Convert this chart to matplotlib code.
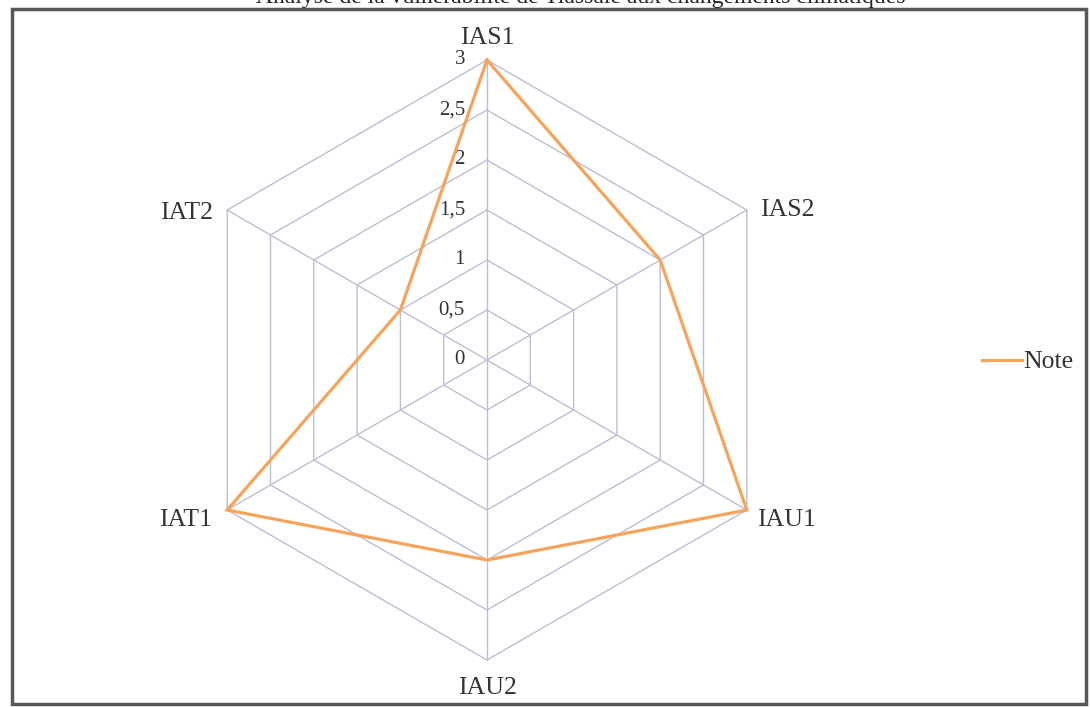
import numpy as np
import matplotlib
matplotlib.use('Agg')
import matplotlib.pyplot as plt

# indicator scores
categories = ['IAS1', 'IAS2', 'IAU1', 'IAU2', 'IAT1', 'IAT2']
notes = [3, 2, 3, 2, 3, 1]
ring_values = [0.5, 1, 1.5, 2, 2.5, 3]
tick_labels = ['0', '0,5', '1', '1,5', '2', '2,5', '3']
title = 'Analyse de la vulnérabilité de Tiassalé aux changements climatiques'

plt.rcParams['font.family'] = ['Liberation Serif', 'DejaVu Serif']

W, H = 1090, 707
fig = plt.figure(figsize=(W / 100., H / 100.), dpi=100)
ax = fig.add_axes([0, 0, 1, 1])
# 1 unit = 100 px, centre of the web at (487, 360) px
cx, cy = 487, 360
ax.set_xlim(-cx / 100., (W - cx) / 100.)
ax.set_ylim(-(H - cy) / 100., cy / 100.)
ax.set_aspect('equal')
ax.axis('off')

# first axis on top, then clockwise
angles = np.pi / 2 - np.arange(len(categories)) * 2 * np.pi / len(categories)
grid_col = '#bdbdd4'

for r in ring_values:
    xs = np.append(r * np.cos(angles), r * np.cos(angles[0]))
    ys = np.append(r * np.sin(angles), r * np.sin(angles[0]))
    ax.plot(xs, ys, color=grid_col, lw=1.0, zorder=1)
for a in angles:
    ax.plot([0, 3 * np.cos(a)], [0, 3 * np.sin(a)], color=grid_col, lw=1.0, zorder=1)

# radial tick labels along the top spoke
for i, lab in enumerate(tick_labels):
    ax.text(-0.22, i * 0.5, lab, ha='right', va='center', fontsize=15, color='#333333')

# category labels
offsets = {'IAS1': (0, 0.22, 'center'), 'IAS2': (0.13, 0, 'left'),
           'IAU1': (0.1, -0.1, 'left'), 'IAU2': (0, -0.28, 'center'),
           'IAT1': (-0.15, -0.1, 'right'), 'IAT2': (-0.14, -0.03, 'right')}
for cat, a in zip(categories, angles):
    dx, dy, ha = offsets[cat]
    ax.text(3 * np.cos(a) + dx, 3 * np.sin(a) + dy, cat, ha=ha, va='center',
            fontsize=18.5, color='#333333')

vals = np.array(notes, dtype=float)
xs = np.append(vals * np.cos(angles), vals[0] * np.cos(angles[0]))
ys = np.append(vals * np.sin(angles), vals[0] * np.sin(angles[0]))
line, = ax.plot(xs, ys, color='#f6a35c', lw=2.3, zorder=3, solid_joinstyle='miter')

leg = ax.legend([line], ['Note'], loc='center left',
                bbox_to_anchor=(972 / W, 1 - 362 / H), frameon=False,
                handlelength=1.55, handletextpad=0.05, fontsize=18.5,
                borderaxespad=0)
for t in leg.get_texts():
    t.set_color('#333333')

# outer frame
frame = plt.Rectangle((12 / W, 1 - 704 / H), (1086 - 12) / W, (704 - 9) / H,
                      transform=fig.transFigure, fill=False, ec='#58565a', lw=2.5)
fig.patches.append(frame)

# title, partly cut by the page edge
fig.text(905 / W, 1 - 3 / H, title, ha='right', va='baseline', fontsize=17,
         color='#222222')

fig.savefig('out.png', dpi=100)
